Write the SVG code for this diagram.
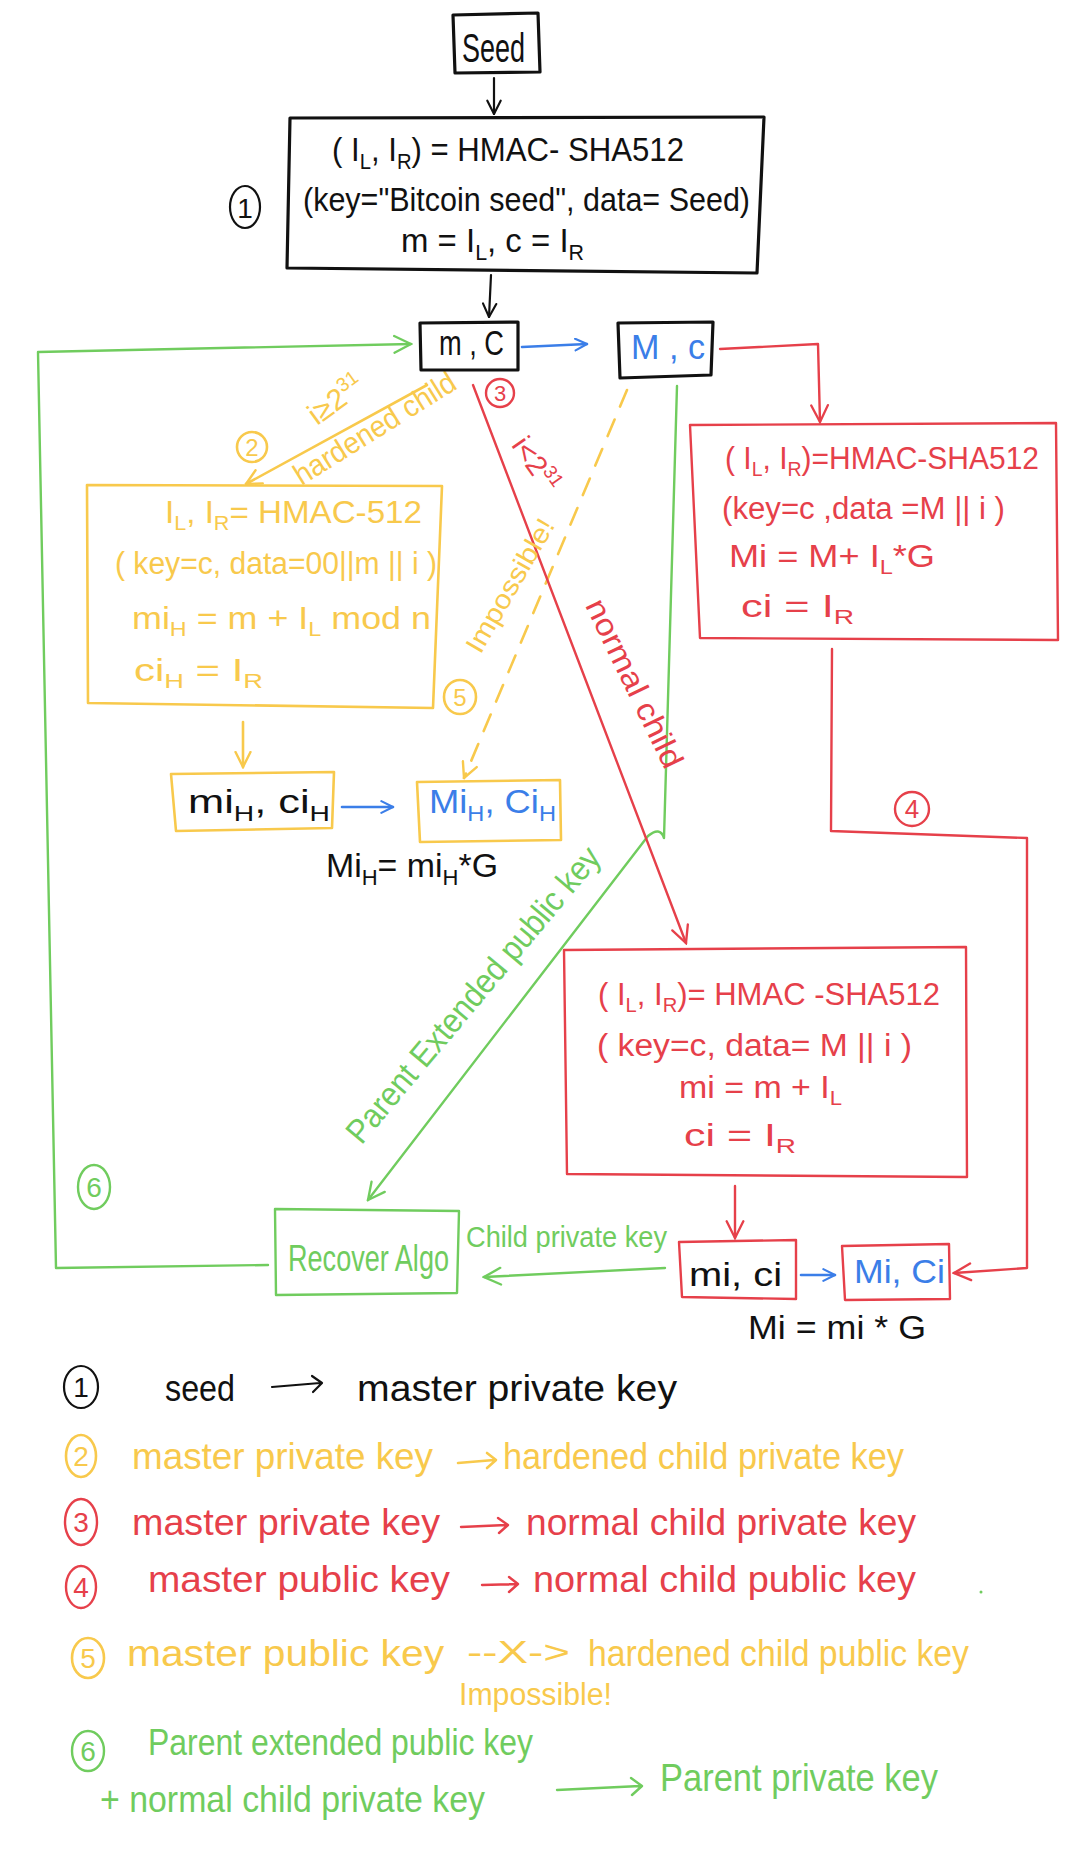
<svg xmlns="http://www.w3.org/2000/svg" width="1078" height="1868" viewBox="0 0 1078 1868">
<style>
.t{font-family:"Liberation Sans",Arial,sans-serif;}
.s{font-size:65%;}
.fk{fill:#111}.fy{fill:#f8c94c}.fr{fill:#e6404a}.fg{fill:#70cc5e}.fb{fill:#3b7ee8}
.ln{fill:none;stroke-linecap:round;stroke-linejoin:round}
.sk{stroke:#111;stroke-width:3.2}.sk2{stroke:#111;stroke-width:2.2}
.sy{stroke:#f8c94c;stroke-width:2.6}.sr{stroke:#e6404a;stroke-width:2.4}
.sg{stroke:#70cc5e;stroke-width:2.4}.sb{stroke:#3b7ee8;stroke-width:2.6}
.dash{stroke-dasharray:18 14}
</style>
<defs>
<marker id="ak" viewBox="0 0 12 12" refX="11" refY="6" markerWidth="16" markerHeight="16" markerUnits="userSpaceOnUse" orient="auto"><path d="M1,1 L11,6 L1,11" fill="none" stroke="#111" stroke-width="1.6" stroke-linecap="round"/></marker>
<marker id="ay" viewBox="0 0 12 12" refX="11" refY="6" markerWidth="18" markerHeight="18" markerUnits="userSpaceOnUse" orient="auto"><path d="M1,1 L11,6 L1,11" fill="none" stroke="#f8c94c" stroke-width="1.6" stroke-linecap="round"/></marker>
<marker id="ar" viewBox="0 0 12 12" refX="11" refY="6" markerWidth="20" markerHeight="20" markerUnits="userSpaceOnUse" orient="auto"><path d="M1,1 L11,6 L1,11" fill="none" stroke="#e6404a" stroke-width="1.4" stroke-linecap="round"/></marker>
<marker id="ag" viewBox="0 0 12 12" refX="11" refY="6" markerWidth="20" markerHeight="20" markerUnits="userSpaceOnUse" orient="auto"><path d="M1,1 L11,6 L1,11" fill="none" stroke="#70cc5e" stroke-width="1.4" stroke-linecap="round"/></marker>
<marker id="ab" viewBox="0 0 12 12" refX="11" refY="6" markerWidth="14" markerHeight="14" markerUnits="userSpaceOnUse" orient="auto"><path d="M1,1 L11,6 L1,11" fill="none" stroke="#3b7ee8" stroke-width="1.8" stroke-linecap="round"/></marker>
</defs>
<rect width="1078" height="1868" fill="#fff"/>

<g id="connectors">
  <path class="ln sk2" d="M494,78 L494,114" marker-end="url(#ak)"/>
  <path class="ln sk2" d="M491,275 L489,317" marker-end="url(#ak)"/>
  <path class="ln sb" d="M522,347 L587,344" marker-end="url(#ab)"/>
  <path class="ln sr" d="M720,349 L818,344 L820,422" marker-end="url(#ar)"/>
  <path class="ln sr" d="M832,649 L831,831 L1027,838 L1027,1268 L954,1273" marker-end="url(#ar)"/>
  <path class="ln sg" d="M677,386 L664,838 Q660,826 648,836 L368,1200" marker-end="url(#ag)"/>
  <path class="ln sg" d="M665,1268 L484,1277" marker-end="url(#ag)"/>
  <path class="ln sg" d="M268,1265 L56,1268 L38,352 L411,344" marker-end="url(#ag)"/>
  <path class="ln sy" d="M427,385 L246,484" marker-end="url(#ay)"/>
  <path class="ln sy dash" d="M627,390 L464,778" marker-end="url(#ay)"/>
  <path class="ln sr" d="M473,385 L578,660 L686,943" marker-end="url(#ar)"/>
  <path class="ln sy" d="M243,722 L243,767" marker-end="url(#ay)"/>
  <path class="ln sb" d="M342,807 L393,807" marker-end="url(#ab)"/>
  <path class="ln sr" d="M735,1186 L735,1238" marker-end="url(#ar)"/>
  <path class="ln sb" d="M801,1275 L835,1275" marker-end="url(#ab)"/>
</g>

<g id="edge-labels">
  <ellipse class="ln sk2" cx="245" cy="207" rx="15" ry="21"/>
  <text class="t fk" x="245" y="218" font-size="28" text-anchor="middle">1</text>
  <ellipse class="ln sy" cx="252" cy="447" rx="15" ry="15"/>
  <text class="t fy" x="252" y="456" font-size="24" text-anchor="middle">2</text>
  <text class="t fy" font-size="30" transform="translate(342,408) rotate(-36)" text-anchor="middle">i≥2<tspan class="s" dy="-12">31</tspan></text>
  <text class="t fy" font-size="30" transform="translate(380,437) rotate(-32)" text-anchor="middle" textLength="185" lengthAdjust="spacingAndGlyphs">hardened child</text>
  <ellipse class="ln sr" cx="500" cy="393" rx="14" ry="14"/>
  <text class="t fr" x="500" y="401" font-size="22" text-anchor="middle">3</text>
  <text class="t fr" font-size="29" transform="translate(528,470) rotate(55)" text-anchor="middle">i&lt;2<tspan class="s" dy="-11">31</tspan></text>
  <text class="t fr" font-size="31" transform="translate(625,688) rotate(64)" text-anchor="middle" textLength="184" lengthAdjust="spacingAndGlyphs">normal child</text>
  <text class="t fy" font-size="27" transform="translate(518,590) rotate(-60)" text-anchor="middle" textLength="150" lengthAdjust="spacingAndGlyphs">Impossible!</text>
  <ellipse class="ln sy" cx="460" cy="697" rx="16" ry="17"/>
  <text class="t fy" x="460" y="706" font-size="24" text-anchor="middle">5</text>
  <ellipse class="ln sr" cx="912" cy="809" rx="17" ry="17"/>
  <text class="t fr" x="912" y="818" font-size="26" text-anchor="middle">4</text>
  <text class="t fg" font-size="34" transform="translate(482,1002) rotate(-50)" text-anchor="middle" textLength="375" lengthAdjust="spacingAndGlyphs">Parent Extended public key</text>
  <text class="t fg" x="466" y="1247" font-size="30" textLength="201" lengthAdjust="spacingAndGlyphs">Child private key</text>
  <ellipse class="ln sg" cx="94" cy="1187" rx="16" ry="22"/>
  <text class="t fg" x="94" y="1197" font-size="28" text-anchor="middle">6</text>
</g>

<g id="node-seed">
  <path class="ln sk" d="M453,15 L538,13 L540,72 L455,73 Z"/>
  <text class="t fk" x="462" y="62" font-size="40" textLength="63" lengthAdjust="spacingAndGlyphs">Seed</text>
</g>

<g id="node-master-hmac">
  <path class="ln sk" d="M290,118 L764,117 L757,273 L287,268 Z"/>
  <text class="t fk" x="332" y="161" font-size="33" textLength="352" lengthAdjust="spacingAndGlyphs">( I<tspan class="s" dy="8">L</tspan><tspan dy="-8">, I</tspan><tspan class="s" dy="8">R</tspan><tspan dy="-8">) = HMAC- SHA512</tspan></text>
  <text class="t fk" x="303" y="211" font-size="33" textLength="447" lengthAdjust="spacingAndGlyphs">(key="Bitcoin seed", data= Seed)</text>
  <text class="t fk" x="401" y="252" font-size="33" textLength="183" lengthAdjust="spacingAndGlyphs">m = I<tspan class="s" dy="8">L</tspan><tspan dy="-8">,  c = I</tspan><tspan class="s" dy="8">R</tspan></text>
</g>

<g id="node-mC">
  <path class="ln sk" d="M420,323 L518,322 L518,370 L421,370 Z"/>
  <text class="t fk" x="439" y="355" font-size="35" textLength="65" lengthAdjust="spacingAndGlyphs">m , C</text>
</g>

<g id="node-Mc">
  <path class="ln sk" d="M618,323 L713,322 L711,375 L620,378 Z"/>
  <text class="t fb" x="631" y="359" font-size="35" textLength="74" lengthAdjust="spacingAndGlyphs">M , c</text>
</g>

<g id="node-public-child-hmac">
  <path class="ln sr" d="M690,425 L1056,423 L1058,640 L700,638 Z"/>
  <text class="t fr" x="725" y="469" font-size="31" textLength="314" lengthAdjust="spacingAndGlyphs">( I<tspan class="s" dy="7">L</tspan><tspan dy="-7">, I</tspan><tspan class="s" dy="7">R</tspan><tspan dy="-7">)=HMAC-SHA512</tspan></text>
  <text class="t fr" x="722" y="519" font-size="31" textLength="283" lengthAdjust="spacingAndGlyphs">(key=c ,data =M || i )</text>
  <text class="t fr" x="729" y="567" font-size="31" textLength="206" lengthAdjust="spacingAndGlyphs">Mi =  M+ I<tspan class="s" dy="7">L</tspan><tspan dy="-7">*G</tspan></text>
  <text class="t fr" x="741" y="617" font-size="31" textLength="113" lengthAdjust="spacingAndGlyphs">ci = I<tspan class="s" dy="7">R</tspan></text>
</g>

<g id="node-hardened-hmac">
  <path class="ln sy" d="M87,485 L442,486 L433,708 L88,703 Z"/>
  <text class="t fy" x="165" y="523" font-size="31" textLength="257" lengthAdjust="spacingAndGlyphs">I<tspan class="s" dy="7">L</tspan><tspan dy="-7">, I</tspan><tspan class="s" dy="7">R</tspan><tspan dy="-7">= HMAC-512</tspan></text>
  <text class="t fy" x="115" y="574" font-size="31" textLength="322" lengthAdjust="spacingAndGlyphs">( key=c, data=00||m || i )</text>
  <text class="t fy" x="132" y="629" font-size="31" textLength="299" lengthAdjust="spacingAndGlyphs">mi<tspan class="s" dy="7">H</tspan><tspan dy="-7"> = m + I</tspan><tspan class="s" dy="7">L</tspan><tspan dy="-7"> mod n</tspan></text>
  <text class="t fy" x="134" y="681" font-size="31" textLength="129" lengthAdjust="spacingAndGlyphs">ci<tspan class="s" dy="7">H</tspan><tspan dy="-7"> = I</tspan><tspan class="s" dy="7">R</tspan></text>
</g>

<g id="node-miH">
  <path class="ln sy" d="M171,774 L334,772 L332,828 L176,831 Z"/>
  <text class="t fk" x="188" y="813" font-size="33" textLength="142" lengthAdjust="spacingAndGlyphs">mi<tspan class="s" dy="8">H</tspan><tspan dy="-8">,  ci</tspan><tspan class="s" dy="8">H</tspan></text>
</g>

<g id="node-MiH">
  <path class="ln sy" d="M417,782 L560,780 L561,840 L420,842 Z"/>
  <text class="t fb" x="429" y="813" font-size="33" textLength="127" lengthAdjust="spacingAndGlyphs">Mi<tspan class="s" dy="8">H</tspan><tspan dy="-8">, Ci</tspan><tspan class="s" dy="8">H</tspan></text>
  <text class="t fk" x="326" y="877" font-size="33" textLength="172" lengthAdjust="spacingAndGlyphs">Mi<tspan class="s" dy="8">H</tspan><tspan dy="-8">= mi</tspan><tspan class="s" dy="8">H</tspan><tspan dy="-8">*G</tspan></text>
</g>

<g id="node-normal-child-hmac">
  <path class="ln sr" d="M564,950 L966,947 L967,1177 L567,1174 Z"/>
  <text class="t fr" x="598" y="1005" font-size="31" textLength="342" lengthAdjust="spacingAndGlyphs">( I<tspan class="s" dy="7">L</tspan><tspan dy="-7">, I</tspan><tspan class="s" dy="7">R</tspan><tspan dy="-7">)= HMAC -SHA512</tspan></text>
  <text class="t fr" x="597" y="1056" font-size="31" textLength="315" lengthAdjust="spacingAndGlyphs">( key=c, data= M || i )</text>
  <text class="t fr" x="679" y="1098" font-size="31" textLength="163" lengthAdjust="spacingAndGlyphs">mi = m + I<tspan class="s" dy="7">L</tspan></text>
  <text class="t fr" x="684" y="1146" font-size="31" textLength="112" lengthAdjust="spacingAndGlyphs">ci =  I<tspan class="s" dy="7">R</tspan></text>
</g>

<g id="node-mi">
  <path class="ln sr" d="M679,1242 L796,1240 L796,1299 L682,1297 Z"/>
  <text class="t fk" x="689" y="1286" font-size="33" textLength="93" lengthAdjust="spacingAndGlyphs">mi, ci</text>
</g>

<g id="node-Mi">
  <path class="ln sr" d="M842,1246 L949,1244 L950,1299 L845,1300 Z"/>
  <text class="t fb" x="854" y="1283" font-size="33" textLength="91" lengthAdjust="spacingAndGlyphs">Mi, Ci</text>
  <text class="t fk" x="748" y="1339" font-size="33" textLength="178" lengthAdjust="spacingAndGlyphs">Mi = mi * G</text>
</g>

<g id="node-recover">
  <path class="ln sg" d="M275,1209 L459,1211 L457,1293 L276,1295 Z"/>
  <text class="t fg" x="288" y="1271" font-size="36" textLength="161" lengthAdjust="spacingAndGlyphs">Recover Algo</text>
</g>

<g id="legend">
  <ellipse class="ln sk2" cx="81" cy="1387" rx="17" ry="21"/>
  <text class="t fk" x="81" y="1397" font-size="28" text-anchor="middle">1</text>
  <text class="t fk" x="165" y="1401" font-size="36" textLength="70" lengthAdjust="spacingAndGlyphs">seed</text>
  <path class="ln sk2" d="M272,1387 L320,1383 M312,1376 L322,1383 L313,1392"/>
  <text class="t fk" x="357" y="1401" font-size="36" textLength="320" lengthAdjust="spacingAndGlyphs">master private key</text>

  <ellipse class="ln sy" cx="81" cy="1456" rx="15" ry="21"/>
  <text class="t fy" x="81" y="1466" font-size="28" text-anchor="middle">2</text>
  <text class="t fy" x="132" y="1469" font-size="36" textLength="301" lengthAdjust="spacingAndGlyphs">master private key</text>
  <path class="ln sy" d="M458,1463 L494,1460 M487,1453 L496,1460 L487,1468"/>
  <text class="t fy" x="503" y="1469" font-size="36" textLength="401" lengthAdjust="spacingAndGlyphs">hardened child private key</text>

  <ellipse class="ln sr" cx="81" cy="1522" rx="16" ry="23"/>
  <text class="t fr" x="81" y="1532" font-size="28" text-anchor="middle">3</text>
  <text class="t fr" x="132" y="1535" font-size="36" textLength="308" lengthAdjust="spacingAndGlyphs">master private key</text>
  <path class="ln sr" d="M461,1527 L506,1525 M498,1518 L508,1525 L499,1533"/>
  <text class="t fr" x="526" y="1535" font-size="36" textLength="390" lengthAdjust="spacingAndGlyphs">normal child private key</text>

  <ellipse class="ln sr" cx="81" cy="1587" rx="15" ry="21"/>
  <text class="t fr" x="81" y="1597" font-size="28" text-anchor="middle">4</text>
  <text class="t fr" x="148" y="1592" font-size="36" textLength="302" lengthAdjust="spacingAndGlyphs">master public key</text>
  <path class="ln sr" d="M482,1585 L516,1584 M509,1577 L518,1584 L509,1592"/>
  <text class="t fr" x="533" y="1592" font-size="36" textLength="383" lengthAdjust="spacingAndGlyphs">normal child public key</text>
  <circle cx="981" cy="1592" r="1.5" fill="#70cc5e"/>

  <ellipse class="ln sy" cx="88" cy="1658" rx="16" ry="20"/>
  <text class="t fy" x="88" y="1668" font-size="28" text-anchor="middle">5</text>
  <text class="t fy" x="127" y="1666" font-size="36" textLength="317" lengthAdjust="spacingAndGlyphs">master public key</text>
  <text class="t fy" x="467" y="1663" font-size="32" textLength="103" lengthAdjust="spacingAndGlyphs">--X-&gt;</text>
  <text class="t fy" x="588" y="1666" font-size="36" textLength="381" lengthAdjust="spacingAndGlyphs">hardened child public key</text>
  <text class="t fy" x="459" y="1705" font-size="31" textLength="153" lengthAdjust="spacingAndGlyphs">Impossible!</text>

  <ellipse class="ln sg" cx="88" cy="1751" rx="16" ry="20"/>
  <text class="t fg" x="88" y="1761" font-size="28" text-anchor="middle">6</text>
  <text class="t fg" x="148" y="1755" font-size="36" textLength="385" lengthAdjust="spacingAndGlyphs">Parent extended public key</text>
  <text class="t fg" x="100" y="1812" font-size="36" textLength="385" lengthAdjust="spacingAndGlyphs">+ normal child private key</text>
  <path class="ln sg" d="M557,1790 L640,1786 M631,1778 L642,1786 L632,1795"/>
  <text class="t fg" x="660" y="1791" font-size="38" textLength="278" lengthAdjust="spacingAndGlyphs">Parent private key</text>
</g>
</svg>
